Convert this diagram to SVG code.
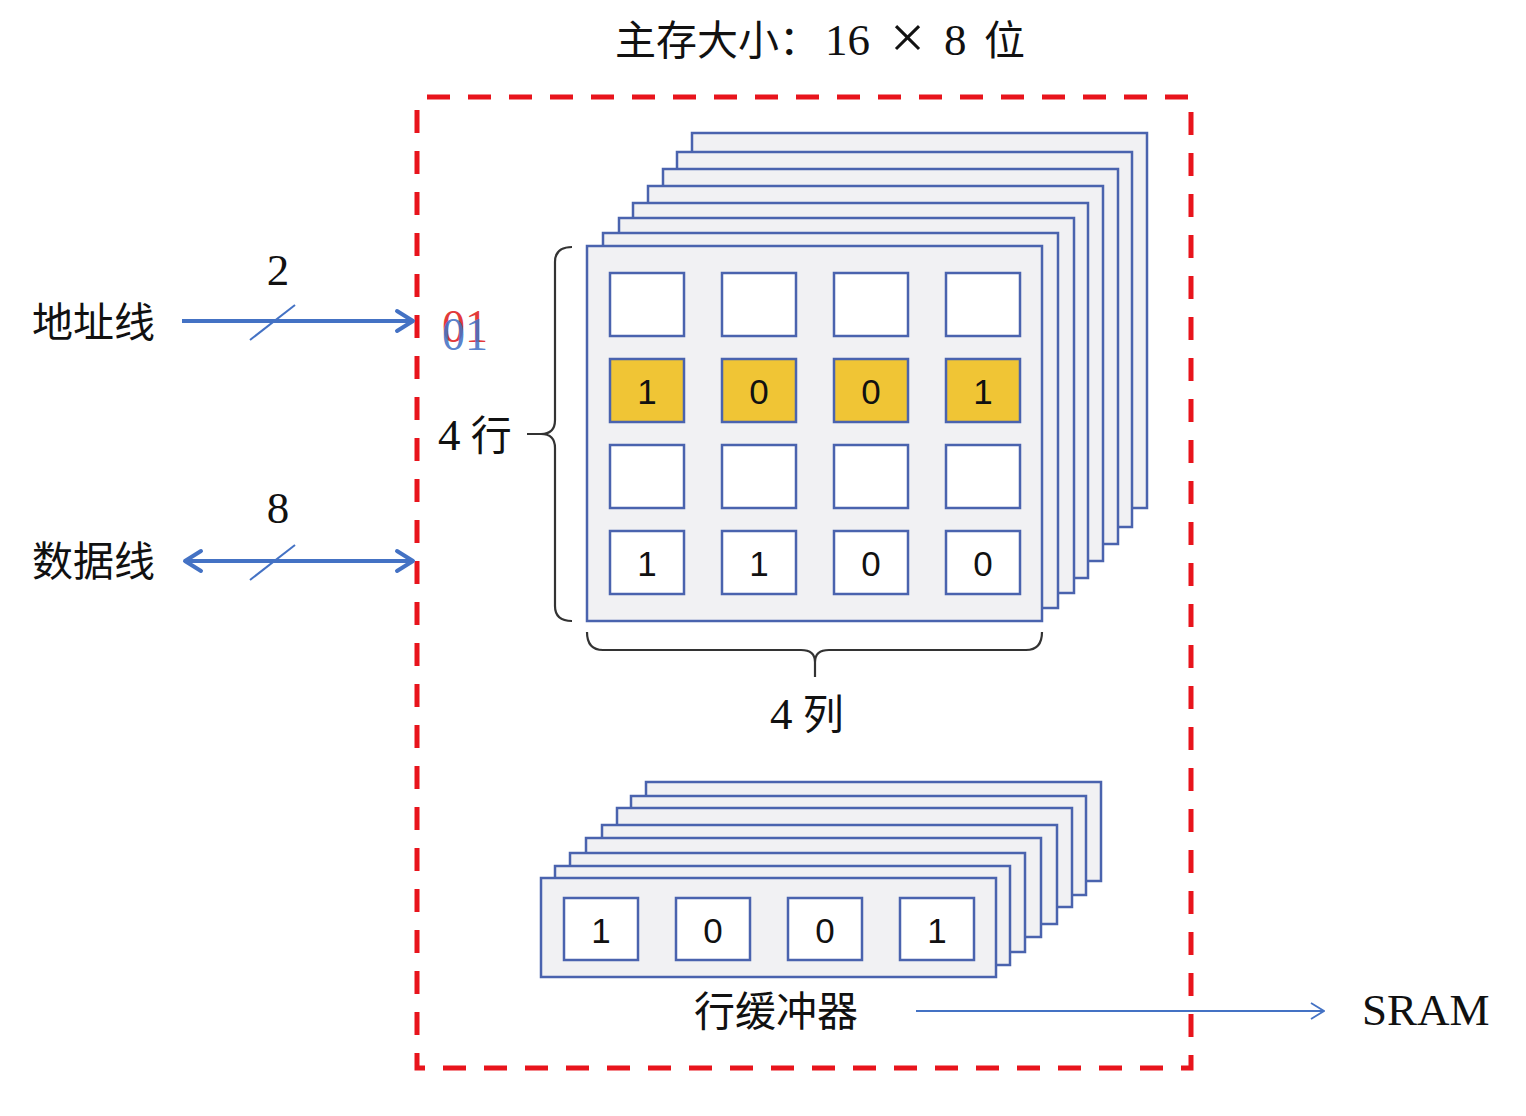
<svg xmlns="http://www.w3.org/2000/svg" width="1526" height="1116" viewBox="0 0 1526 1116">
<style>
.layer{fill:#f1f1f3;stroke:#4a63ae;stroke-width:2.5}
.cell{fill:#ffffff;stroke:#4a63ae;stroke-width:2.5}
.cell.on{fill:#f0c535}
.bit{font-family:"Liberation Sans","Open Sans",sans-serif;font-size:35px;fill:#111;text-anchor:middle}
.lbl{font-family:"Liberation Serif","Noto Sans CJK SC",serif;font-size:41px;fill:#111}
.big{font-size:45px}
.brace{fill:none;stroke:#333;stroke-width:2.2}
.wire{stroke:#4472c4;stroke-width:4;fill:none}
.slash{stroke:#4472c4;stroke-width:2}
</style>
<defs>
<marker id="chev" viewBox="0 0 22 26" refX="19" refY="13" markerWidth="22" markerHeight="26" markerUnits="userSpaceOnUse" orient="auto-start-reverse">
<path d="M3,3 L19,13 L3,23" fill="none" stroke="#4472c4" stroke-width="4" stroke-linecap="round" stroke-linejoin="round"/>
</marker>
<marker id="thin" viewBox="0 0 16 20" refX="15" refY="10" markerWidth="16" markerHeight="20" markerUnits="userSpaceOnUse" orient="auto">
<path d="M2,2 L15,10 L2,18" fill="none" stroke="#4472c4" stroke-width="1.8"/>
</marker>
</defs>
<rect width="1526" height="1116" fill="#ffffff"/>

<g id="title">
<text class="lbl" y="55"><tspan x="615">主存大小：</tspan><tspan class="big" x="825">16</tspan><tspan x="890" font-size="62" dy="3">×</tspan><tspan class="big" x="944" dy="-3">8</tspan><tspan x="984">位</tspan></text>
</g>

<g id="boundary">
<rect x="417" y="97" width="774" height="971" fill="none" stroke="#e8141c" stroke-width="5" stroke-dasharray="23 18" stroke-dashoffset="-10"/>
</g>

<g id="memory-array">
<rect class="layer" x="692" y="133" width="455" height="375"/>
<rect class="layer" x="677" y="152" width="455" height="375"/>
<rect class="layer" x="663" y="169" width="455" height="375"/>
<rect class="layer" x="648" y="186" width="455" height="375"/>
<rect class="layer" x="633" y="203" width="455" height="375"/>
<rect class="layer" x="619" y="218" width="455" height="375"/>
<rect class="layer" x="603" y="233" width="455" height="375"/>
<rect class="layer" x="587" y="246" width="455" height="375"/>
<g id="row0">
<rect class="cell" x="610" y="273" width="74" height="63"/>
<rect class="cell" x="722" y="273" width="74" height="63"/>
<rect class="cell" x="834" y="273" width="74" height="63"/>
<rect class="cell" x="946" y="273" width="74" height="63"/>
</g>
<g id="row1">
<rect class="cell on" x="610" y="359" width="74" height="63"/>
<rect class="cell on" x="722" y="359" width="74" height="63"/>
<rect class="cell on" x="834" y="359" width="74" height="63"/>
<rect class="cell on" x="946" y="359" width="74" height="63"/>
<text class="bit" x="647" y="404">1</text>
<text class="bit" x="759" y="404">0</text>
<text class="bit" x="871" y="404">0</text>
<text class="bit" x="983" y="404">1</text>
</g>
<g id="row2">
<rect class="cell" x="610" y="445" width="74" height="63"/>
<rect class="cell" x="722" y="445" width="74" height="63"/>
<rect class="cell" x="834" y="445" width="74" height="63"/>
<rect class="cell" x="946" y="445" width="74" height="63"/>
</g>
<g id="row3">
<rect class="cell" x="610" y="531" width="74" height="63"/>
<rect class="cell" x="722" y="531" width="74" height="63"/>
<rect class="cell" x="834" y="531" width="74" height="63"/>
<rect class="cell" x="946" y="531" width="74" height="63"/>
<text class="bit" x="647" y="576">1</text>
<text class="bit" x="759" y="576">1</text>
<text class="bit" x="871" y="576">0</text>
<text class="bit" x="983" y="576">0</text>
</g>
</g>

<g id="rows-brace">
<path class="brace" d="M572,247 Q555,247 555,262 L555,420 Q555,434 541,434 L527,434 M541,434 Q555,434 555,448 L555,606 Q555,621 572,621"/>
<text class="lbl" x="438" y="450"><tspan class="big">4</tspan> 行</text>
</g>

<g id="cols-brace">
<path class="brace" d="M587,632 Q587,650 603,650 L801,650 Q815,650 815,662 L815,677 M815,662 Q815,650 829,650 L1026,650 Q1042,650 1042,632"/>
<text class="lbl" x="770" y="729"><tspan class="big">4</tspan> 列</text>
</g>

<g id="row-buffer">
<rect class="layer" x="646" y="782" width="455" height="99"/>
<rect class="layer" x="631" y="796" width="455" height="99"/>
<rect class="layer" x="617" y="808" width="455" height="99"/>
<rect class="layer" x="602" y="825" width="455" height="99"/>
<rect class="layer" x="586" y="838" width="455" height="99"/>
<rect class="layer" x="570" y="853" width="455" height="99"/>
<rect class="layer" x="555" y="866" width="455" height="99"/>
<rect class="layer" x="541" y="878" width="455" height="99"/>
<rect class="cell" x="564" y="898" width="74" height="62"/>
<rect class="cell" x="676" y="898" width="74" height="62"/>
<rect class="cell" x="788" y="898" width="74" height="62"/>
<rect class="cell" x="900" y="898" width="74" height="62"/>
<text class="bit" x="601" y="943">1</text>
<text class="bit" x="713" y="943">0</text>
<text class="bit" x="825" y="943">0</text>
<text class="bit" x="937" y="943">1</text>
<text class="lbl" x="694" y="1026">行缓冲器</text>
</g>

<g id="address-line">
<text class="lbl" x="32" y="337">地址线</text>
<text class="lbl big" x="278" y="285" text-anchor="middle">2</text>
<text x="442" y="342" font-family="Liberation Serif,serif" font-size="46" fill="#e23a3a">01</text>
<text x="442" y="350" font-family="Liberation Serif,serif" font-size="46" fill="#4472c4" fill-opacity="0.9">01</text>
</g>

<g id="data-line">
<text class="lbl" x="32" y="576">数据线</text>
<text class="lbl big" x="278" y="523" text-anchor="middle">8</text>
</g>

<g id="sram">
<text class="lbl big" x="1362" y="1025">SRAM</text>
</g>

<g id="connectors">
<line class="wire" x1="182" y1="321" x2="413" y2="321" marker-end="url(#chev)"/>
<line class="slash" x1="250" y1="340" x2="295" y2="305"/>
<line class="wire" x1="185" y1="561" x2="413" y2="561" marker-start="url(#chev)" marker-end="url(#chev)"/>
<line class="slash" x1="250" y1="580" x2="295" y2="545"/>
<line x1="916" y1="1011" x2="1324" y2="1011" stroke="#4472c4" stroke-width="1.8" marker-end="url(#thin)"/>
</g>
</svg>
